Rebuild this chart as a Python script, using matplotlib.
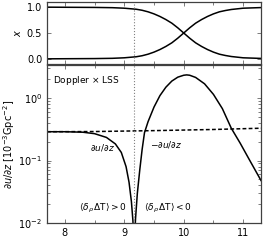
import numpy as np
import matplotlib
matplotlib.use('Agg')
import matplotlib.pyplot as plt
from matplotlib.ticker import MultipleLocator, LogLocator, NullFormatter

# top panel: fractions
m_top = [7.7, 8.0, 8.5, 8.8, 9.0, 9.1, 9.2, 9.3, 9.4, 9.5, 9.6, 9.7, 9.8, 9.9, 10.0, 10.1, 10.2,
         10.3, 10.4, 10.5, 10.6, 10.7, 10.8, 11.0, 11.3]
x_fall = [1.0, 0.998, 0.995, 0.99, 0.98, 0.97, 0.96, 0.94, 0.91, 0.87, 0.82, 0.76, 0.69, 0.60, 0.5,
          0.40, 0.31, 0.24, 0.18, 0.13, 0.09, 0.065, 0.045, 0.02, 0.008]
x_rise = [0.0, 0.002, 0.005, 0.01, 0.02, 0.03, 0.04, 0.06, 0.09, 0.13, 0.18, 0.24, 0.31, 0.40, 0.5,
          0.60, 0.69, 0.76, 0.82, 0.87, 0.91, 0.935, 0.955, 0.98, 0.992]

# bottom panel: du/dz, left branch (positive) and right branch (negative)
m_left = [7.7, 8.0, 8.3, 8.5, 8.7, 8.85, 8.95, 9.03, 9.08, 9.12, 9.145, 9.16]
du_left = [0.29, 0.29, 0.285, 0.27, 0.235, 0.185, 0.135, 0.08, 0.045, 0.022, 0.011, 0.005]
m_right = [9.17, 9.19, 9.22, 9.26, 9.3, 9.34, 9.4, 9.5, 9.6, 9.7, 9.8, 9.9, 10.0, 10.05, 10.1,
           10.2, 10.35, 10.5, 10.65, 10.8, 10.95, 11.1, 11.3]
du_right = [0.005, 0.012, 0.03, 0.07, 0.15, 0.28, 0.42, 0.72, 1.1, 1.5, 1.88, 2.17, 2.33, 2.36, 2.33,
            2.15, 1.7, 1.15, 0.68, 0.33, 0.19, 0.105, 0.048]
m_lss = [7.7, 8.5, 9.5, 10.5, 11.3]
du_lss = [0.29, 0.292, 0.302, 0.315, 0.33]

m_split = 9.16

plt.rcParams['font.size'] = 7
plt.rcParams['xtick.direction'] = 'in'
plt.rcParams['ytick.direction'] = 'in'

fig = plt.figure(figsize=(2.64, 2.41), dpi=100)
W, H = 264.0, 241.0
ax1 = fig.add_axes([47 / W, 1 - 64 / H, 214 / W, 62 / H])
ax2 = fig.add_axes([47 / W, 1 - 223 / H, 214 / W, 158 / H])

ax1.plot(m_top, x_fall, color='k', lw=1.1)
ax1.plot(m_top, x_rise, color='k', lw=1.1)
ax1.axvline(m_split, color='0.5', ls=':', lw=0.8)
ax1.set_xlim(7.7, 11.3)
ax1.set_ylim(-0.1, 1.1)
ax1.set_yticks([0.0, 0.5, 1.0])
ax1.set_xticklabels([])
ax1.set_ylabel(r'$x$', labelpad=3)

ax2.plot(m_left, du_left, color='k', lw=1.1)
ax2.plot(m_right, du_right, color='k', lw=1.1)
ax2.plot(m_lss, du_lss, color='k', lw=1.1, ls=(0, (2.5, 1.5)))
ax2.axvline(m_split, color='0.5', ls=':', lw=0.8)
ax2.set_yscale('log')
ax2.set_xlim(7.7, 11.3)
ax2.set_ylim(1e-2, 3.4)
ax2.set_xticks([8, 9, 10, 11])
ax2.set_ylabel(r'$\partial u/\partial z$ [$10^{-3}$Gpc$^{-2}$]', labelpad=1)
ax2.yaxis.set_minor_locator(LogLocator(base=10, subs=np.arange(2, 10)))
ax2.yaxis.set_minor_formatter(NullFormatter())

for ax in (ax1, ax2):
    ax.xaxis.set_minor_locator(MultipleLocator(0.5))
    ax.tick_params(which='both', top=True, right=True, length=3, width=0.6, color='0.4')
    ax.tick_params(which='minor', length=2)
    for s in ax.spines.values():
        s.set_color('0.25')
        s.set_linewidth(0.9)

ax2.text(0.03, 0.905, r'Doppler $\times$ LSS', transform=ax2.transAxes, ha='left', va='center', fontsize=6.5)
ax2.text(0.257, 0.48, r'$\partial u/\partial z$', transform=ax2.transAxes, ha='center', va='center', fontsize=6.5)
ax2.text(0.556, 0.494, r'$-\partial u/\partial z$', transform=ax2.transAxes, ha='center', va='center', fontsize=6.5)
ax2.text(0.262, 0.095, r'$\langle\delta_\rho\,\Delta\mathrm{T}\rangle>$0', transform=ax2.transAxes,
         ha='center', va='center', fontsize=6.5)
ax2.text(0.565, 0.095, r'$\langle\delta_\rho\,\Delta\mathrm{T}\rangle<$0', transform=ax2.transAxes,
         ha='center', va='center', fontsize=6.5)

fig.savefig('out.png', dpi=100)
